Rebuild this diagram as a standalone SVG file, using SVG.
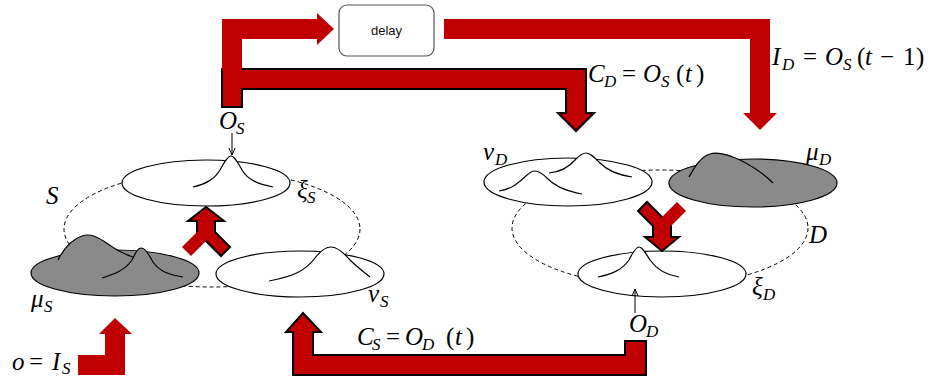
<svg xmlns="http://www.w3.org/2000/svg" width="931" height="378" viewBox="0 0 931 378">
<defs>
<marker id="ah" markerWidth="8" markerHeight="8" refX="7" refY="4" orient="auto" markerUnits="userSpaceOnUse">
<path d="M0,1 L7,4 L0,7" fill="none" stroke="#000" stroke-width="1"/>
</marker>
<style>
.bg{fill:#fff}
.dash{fill:none;stroke:#000;stroke-width:1;stroke-dasharray:4 3}
.ew{fill:#fff;stroke:#000;stroke-width:1.2}
.eg{fill:#8a8a8a;stroke:#000;stroke-width:1.2}
.cf-w{fill:#fff;stroke:none}
.cf-g{fill:#8a8a8a;stroke:none}
.cl{fill:none;stroke:#000;stroke-width:1.2}
.ra{fill:#c00000;stroke:none}
.rao{fill:#c00000;stroke:#000;stroke-width:2;stroke-linejoin:miter}
.m{font-family:"Liberation Serif","DejaVu Serif",serif;font-style:italic;font-size:25px;fill:#000}
.s{font-size:17px}
.r{font-style:normal}
.box{fill:#fff;stroke:#555;stroke-width:1.2}
.lbl{font-family:"Liberation Sans",Arial,sans-serif;font-size:13px;fill:#111}
.sm{stroke:#000;stroke-width:1}
</style>
</defs>
<rect class="bg" x="0" y="0" width="931" height="378"/>

<g id="cluster-S">
<ellipse class="dash" cx="212" cy="229" rx="148" ry="58"/>
<text class="m" x="46" y="204" font-size="26">S</text>
</g>
<g id="cluster-D">
<ellipse class="dash" cx="660" cy="228" rx="148" ry="58"/>
<text class="m" x="809" y="243" font-size="26">D</text>
</g>

<g id="xi_S">
<ellipse class="ew" cx="206" cy="183" rx="84" ry="23"/>
<path class="cf-w" d="M193,187 C205,184 214,180 220,170 C225,161 228,156 231,156 C234,156 237,161 242,170 C248,180 258,184 273,187 Z"/>
<path class="cl" d="M193,187 C205,184 214,180 220,170 C225,161 228,156 231,156 C234,156 237,161 242,170 C248,180 258,184 273,187"/>
<text class="m" x="297" y="198">ξ<tspan class="s" x="307" y="203">S</tspan></text>
</g>

<g id="mu_S">
<ellipse class="eg" cx="115" cy="273" rx="84" ry="23"/>
<path class="cf-g" d="M58,260 C62,252 70,240 82,236 C90,233 98,237 108,244 C116,250 124,254 133,257 L133,264 L58,264 Z"/>
<path class="cl" d="M58,260 C62,252 70,240 82,236 C90,233 98,237 108,244 C116,250 124,254 133,257"/>
<path class="cf-g" d="M102,278 C115,274 125,270 132,260 C136,252 138,248 141,248 C145,248 148,253 153,262 C160,272 170,275 183,277 Z"/>
<path class="cl" d="M102,278 C115,274 125,270 132,260 C136,252 138,248 141,248 C145,248 148,253 153,262 C160,272 170,275 183,277"/>
<text class="m" x="31" y="307">μ<tspan class="s" x="44" y="312">S</tspan></text>
</g>

<g id="nu_S">
<ellipse class="ew" cx="300" cy="274" rx="84" ry="23"/>
<path class="cf-w" d="M269,281 C290,277 305,272 315,258 C322,249 327,247 331,247 C337,247 343,252 350,260 C357,267 364,272 370,277 Z"/>
<path class="cl" d="M269,281 C290,277 305,272 315,258 C322,249 327,247 331,247 C337,247 343,252 350,260 C357,267 364,272 370,277"/>
<text class="m" x="368" y="302">ν<tspan class="s" x="380" y="307">S</tspan></text>
</g>

<g id="nu_D">
<ellipse class="ew" cx="568" cy="182" rx="84" ry="24"/>
<path class="cf-w" d="M549,173 C562,172 570,166 576,159 C580,155 583,153 586,153 C590,153 594,157 600,163 C608,171 618,175 632,177 Z"/>
<path class="cl" d="M549,173 C562,172 570,166 576,159 C580,155 583,153 586,153 C590,153 594,157 600,163 C608,171 618,175 632,177"/>
<path class="cf-w" d="M499,191 C512,189 518,183 526,176 C530,172 533,171 535,171 C539,171 543,174 548,179 C556,187 566,191 582,194 Z"/>
<path class="cl" d="M499,191 C512,189 518,183 526,176 C530,172 533,171 535,171 C539,171 543,174 548,179 C556,187 566,191 582,194"/>
<text class="m" x="483" y="160">ν<tspan class="s" x="495" y="165">D</tspan></text>
</g>

<g id="mu_D">
<ellipse class="eg" cx="753" cy="183" rx="84" ry="24"/>
<path class="cf-g" d="M689,177 C694,168 700,157 710,154 C716,152 725,153 740,160 C752,166 765,175 773,183 L689,183 Z"/>
<path class="cl" d="M689,177 C694,168 700,157 710,154 C716,152 725,153 740,160 C752,166 765,175 773,183"/>
<text class="m" x="806" y="160">μ<tspan class="s" x="819" y="165">D</tspan></text>
</g>

<g id="xi_D">
<ellipse class="ew" cx="662" cy="274" rx="84" ry="23"/>
<path class="cf-w" d="M598,277 C612,274 622,270 629,260 C633,252 636,247 639,247 C642,247 645,252 650,260 C657,270 667,275 679,277 Z"/>
<path class="cl" d="M598,277 C612,274 622,270 629,260 C633,252 636,247 639,247 C642,247 645,252 650,260 C657,270 667,275 679,277"/>
<text class="m" x="752" y="295">ξ<tspan class="s" x="763" y="300">D</tspan></text>
</g>

<g id="delay">
<rect class="box" x="339" y="5" width="95" height="51" rx="8"/>
<text class="lbl" x="386.5" y="35" text-anchor="middle">delay</text>
</g>

<g id="connectors">
<polygon class="rao" points="222,107 222,69 586,69 586,113 594,113 576,131 558,113 566,113 566,89 242,89 242,107"/>
<polygon class="ra" points="222,70.5 222,19 317,19 317,13 334,29 317,45 317,39 242,39 242,70.5"/>
<polygon class="ra" points="444,19 770,19 770,113 777,113 760,130 743,113 750,113 750,39 444,39"/>
<polygon class="rao" points="646,341 646,375 293,375 293,332 286,332 303,313 321,332 313,332 313,355 625,355 625,341"/>
<polygon class="ra" points="78,355 105,355 105,334 99,334 115,318 132,334 125,334 125,375 78,375"/>
<polygon class="rao" points="197,232 197,221 188,221 206,207 224,221 215,221 215,232 230,247 221,256"/>
<polygon class="ra" points="182,247 197,232 215,232 191,256"/>
<polygon class="rao" points="653,226 653,237 645,237 662,251 679,237 671,237 671,226 647,202 638,211"/>
<polygon class="ra" points="686,211 671,226 653,226 677,202"/>
<line class="sm" x1="232" y1="133" x2="232" y2="155" marker-end="url(#ah)"/>
<line class="sm" x1="635" y1="313" x2="635" y2="289" marker-end="url(#ah)"/>
<text class="m" x="219" y="129">O<tspan class="s" x="236" y="134">S</tspan></text>
<text class="m" x="629" y="332">O<tspan class="s" x="646" y="337">D</tspan></text>
<text class="m" x="588" y="82">C<tspan class="s" x="604" y="87">D</tspan><tspan class="r" x="622" y="82">=</tspan><tspan x="643" y="82">O</tspan><tspan class="s" x="661" y="87">S</tspan><tspan class="r" x="676" y="82">(</tspan><tspan x="685" y="82">t</tspan><tspan class="r" x="696" y="82">)</tspan></text>
<text class="m" x="772" y="65">I<tspan class="s" x="782" y="70">D</tspan><tspan class="r" x="803" y="65">=</tspan><tspan x="825" y="65">O</tspan><tspan class="s" x="843" y="70">S</tspan><tspan class="r" x="857" y="65">(</tspan><tspan x="865" y="65">t</tspan><tspan class="r" x="880" y="65">−</tspan><tspan class="r" x="903" y="65">1</tspan><tspan class="r" x="916" y="65">)</tspan></text>
<text class="m" x="357" y="345">C<tspan class="s" x="372" y="350">S</tspan><tspan class="r" x="386" y="345">=</tspan><tspan x="405" y="345">O</tspan><tspan class="s" x="422" y="350">D</tspan><tspan class="r" x="446" y="345">(</tspan><tspan x="455" y="345">t</tspan><tspan class="r" x="466" y="345">)</tspan></text>
<text class="m" x="12" y="370">o<tspan class="r" x="29" y="370">=</tspan><tspan x="52" y="370">I</tspan><tspan class="s" x="62" y="374" font-size="15">S</tspan></text>
</g>
</svg>
